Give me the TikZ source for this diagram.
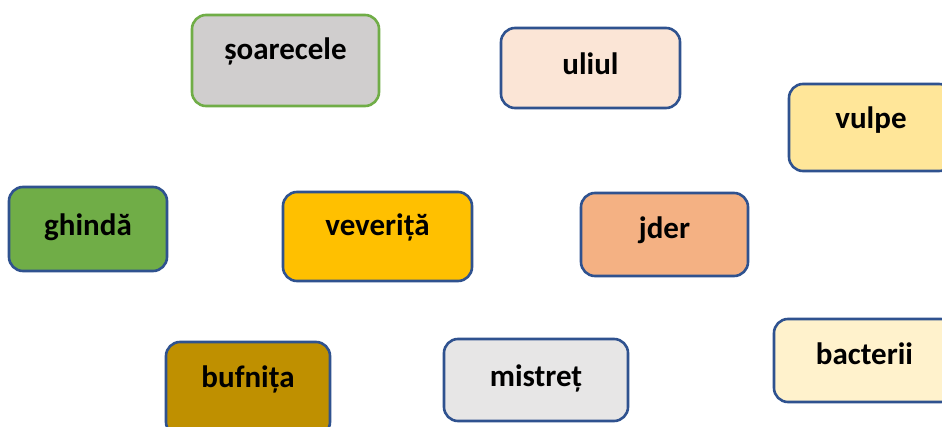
\documentclass[tikz,border=0pt]{standalone}
\usepackage{fontspec}
\setmainfont{Carlito}
\definecolor{edgeblue}{HTML}{2F528F}
\definecolor{leafgreen}{HTML}{70AD47}
\definecolor{mousegray}{HTML}{D0CECE}
\definecolor{hawkpink}{HTML}{FBE5D6}
\definecolor{foxyellow}{HTML}{FFE699}
\definecolor{squirrelgold}{HTML}{FFC000}
\definecolor{martenorange}{HTML}{F4B183}
\definecolor{owlbrown}{HTML}{BF9000}
\definecolor{boargray}{HTML}{E7E6E6}
\definecolor{bactcream}{HTML}{FFF2CC}
\begin{document}
\begin{tikzpicture}[x=1pt,y=-1pt,
    box/.style={draw=edgeblue,line width=2.6pt,rounded corners=14pt,inner sep=0pt},
    word/.style={font=\fontsize{31}{37}\selectfont\bfseries,text height=23pt,
                 text depth=7pt,inner sep=0pt}]
        \fill[white] (0,0) rectangle (942,427);
        \useasboundingbox (0,0) rectangle (942,427);

        \node[box,draw=leafgreen,fill=mousegray,minimum width=187pt,minimum height=91pt] (soarecele) at (285.5,60.5) {};
        \node[box,fill=hawkpink,minimum width=179pt,minimum height=80pt] (uliul) at (590.5,68) {};
        \node[box,fill=foxyellow,minimum width=164pt,minimum height=87pt] (vulpe) at (871,127.5) {};
        \node[box,fill=leafgreen,minimum width=158pt,minimum height=84pt] (ghinda) at (88,229) {};
        \node[box,fill=squirrelgold,minimum width=189pt,minimum height=89pt] (veverita) at (377.5,236.5) {};
        \node[box,fill=martenorange,minimum width=167pt,minimum height=83pt] (jder) at (664.5,234.5) {};
        \node[box,fill=owlbrown,minimum width=164pt,minimum height=94pt] (bufnita) at (248,389) {};
        \node[box,fill=boargray,minimum width=184pt,minimum height=82pt] (mistret) at (536,380) {};
        \node[box,fill=bactcream,minimum width=181pt,minimum height=83pt] (bacterii) at (864.5,360.5) {};

        \node[word] (soarecele-t) at (285.5,52) {șoarecele};
        \node[word] (uliul-t) at (590.5,67) {uliul};
        \node[word] (vulpe-t) at (871,121) {vulpe};
        \node[word] (ghinda-t) at (88,228) {ghindă};
        \node[word] (veverita-t) at (377.5,228) {veveriță};
        \node[word] (jder-t) at (664.5,230.5) {jder};
        \node[word] (bufnita-t) at (248,380) {bufnița};
        \node[word] (mistret-t) at (536,378) {mistreț};
        \node[word] (bacterii-t) at (864.5,356) {bacterii};
      \end{tikzpicture}
\end{document}
